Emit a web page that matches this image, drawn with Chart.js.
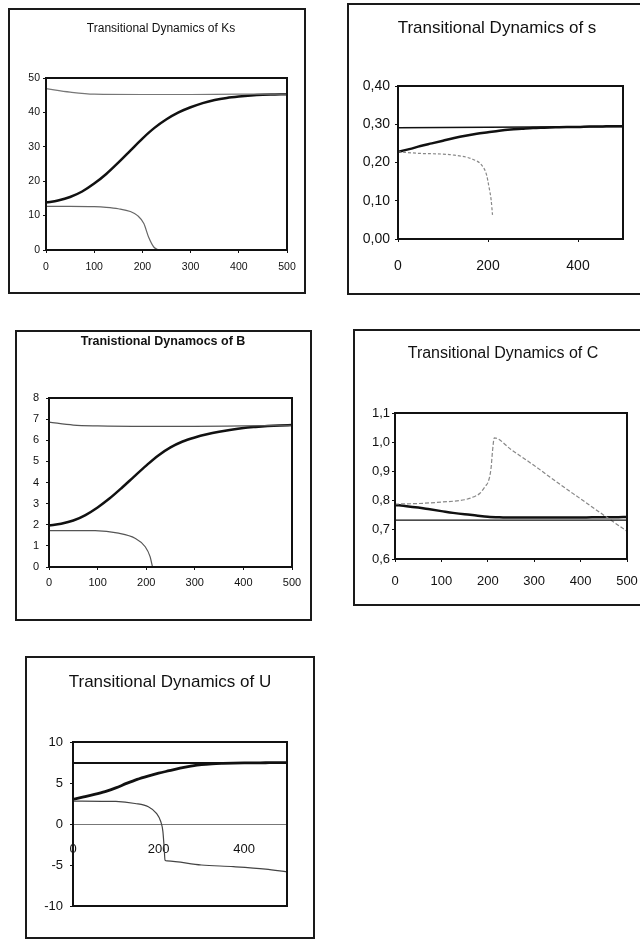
<!DOCTYPE html>
<html>
<head>
<meta charset="utf-8">
<script src="https://cdn.jsdelivr.net/npm/chart.js@4.4.1/dist/chart.umd.min.js"></script>
<style>
  body { margin: 0; background: #fff; width: 640px; height: 941px; position: relative; overflow: hidden; font-family: 'Liberation Sans', Arial, sans-serif; color: #111; }
  .panel { position: absolute; box-sizing: border-box; border: 2px solid #1a1a1a; background: #fff; }
  .panel canvas { position: absolute; left: 0; top: 0; }
  .title { position: absolute; width: 300px; text-align: center; line-height: 1.2; white-space: nowrap; }
</style>
</head>
<body>
<div class="panel" style="left:8px;top:8px;width:298px;height:286px"><canvas id="ks" width="294" height="282"></canvas></div>
<div class="panel" style="left:347px;top:3px;width:298px;height:292px"><canvas id="sv" width="288" height="288"></canvas></div>
<div class="panel" style="left:15px;top:330px;width:297px;height:291px"><canvas id="bv" width="293" height="287"></canvas></div>
<div class="panel" style="left:353px;top:329px;width:292px;height:277px"><canvas id="cv" width="283" height="273"></canvas></div>
<div class="panel" style="left:25px;top:656px;width:290px;height:283px"><canvas id="uv" width="286" height="279"></canvas></div>

<div class="title" style="left:11px;top:21px;font-size:12px">Transitional Dynamics of Ks</div>
<div class="title" style="left:347px;top:18px;font-size:17px">Transitional Dynamics of s</div>
<div class="title" style="left:13px;top:334px;font-size:12.5px;font-weight:bold">Tranistional Dynamocs of B</div>
<div class="title" style="left:353px;top:343px;font-size:16px">Transitional Dynamics of C</div>
<div class="title" style="left:20px;top:672px;font-size:17px">Transitional Dynamics of U</div>
<script>
// common time grid for the smooth curves
const steps = [0, 25, 50, 75, 100, 125, 150, 175, 200, 225, 250, 275, 300, 325, 350, 375, 400, 425, 450, 475, 500];

// Ks
const ksRising = [13.8, 14.4, 15.4, 17.0, 19.3, 22.1, 25.4, 28.9, 32.4, 35.5, 38.0, 40.0, 41.5, 42.7, 43.6, 44.2, 44.6, 44.9, 45.1, 45.2, 45.3];
const ksUpperTime = [0, 50, 100, 200, 300, 400, 500];
const ksUpper = [46.9, 45.9, 45.3, 45.2, 45.2, 45.3, 45.3];
const ksFallTime = [0, 50, 100, 125, 150, 175, 190, 203, 213, 224, 234];
const ksFalling = [12.7, 12.7, 12.6, 12.4, 12.0, 11.2, 10.0, 7.7, 3.7, 0.8, 0];

// s
const sRising = [0.228, 0.235, 0.243, 0.25, 0.257, 0.264, 0.27, 0.275, 0.279, 0.283, 0.286, 0.288, 0.29, 0.291, 0.292, 0.293, 0.293, 0.294, 0.294, 0.295, 0.295];
const sLevelTime = [0, 500];
const sLevel = [0.291, 0.294];
const sFallTime = [0, 45, 119, 167, 186, 197, 202, 207, 210];
const sFalling = [0.228, 0.224, 0.22, 0.208, 0.193, 0.167, 0.137, 0.102, 0.063];

// B
const bRising = [1.96, 2.05, 2.2, 2.46, 2.82, 3.25, 3.75, 4.28, 4.8, 5.28, 5.66, 5.94, 6.13, 6.28, 6.4, 6.5, 6.58, 6.63, 6.67, 6.7, 6.72];
const bUpperTime = [0, 50, 100, 200, 300, 400, 500];
const bUpper = [6.86, 6.72, 6.68, 6.66, 6.66, 6.68, 6.7];
const bFallTime = [0, 95, 143, 177, 198, 208, 213];
const bFalling = [1.72, 1.72, 1.6, 1.36, 0.96, 0.49, 0];

// C
const cFalling = [0.785, 0.781, 0.776, 0.770, 0.764, 0.758, 0.753, 0.749, 0.745, 0.743, 0.742, 0.742, 0.742, 0.742, 0.742, 0.742, 0.742, 0.743, 0.743, 0.743, 0.744];
const cLevelTime = [0, 500];
const cLevel = [0.733, 0.733];
const cPeakTime = [0, 50, 100, 150, 170, 183, 195, 201, 207, 210, 214, 250, 300, 350, 400, 450, 500];
const cPeak = [0.788, 0.79, 0.795, 0.803, 0.813, 0.825, 0.85, 0.865, 0.911, 0.967, 1.015, 0.975, 0.92, 0.862, 0.806, 0.75, 0.695];

// U
const uRising = [3.0, 3.3, 3.6, 3.95, 4.4, 4.95, 5.45, 5.85, 6.2, 6.5, 6.8, 7.05, 7.25, 7.35, 7.4, 7.43, 7.45, 7.46, 7.47, 7.48, 7.48];
const uLevelTime = [0, 500];
const uLevel = [7.45, 7.45];
const uFallTime = [0, 100, 145, 176, 195, 205, 210, 213, 215, 220, 300, 375, 450, 500];
const uFalling = [2.8, 2.75, 2.5, 2.1, 1.3, 0.3, -0.9, -2.9, -4.4, -4.5, -5.0, -5.2, -5.5, -5.85];

const FONT = "'Liberation Sans', Arial, sans-serif";
const INK = "#111";

function pts(xs, ys) {
  return xs.map((x, i) => ({ x: x, y: ys[i] }));
}

function line(xs, ys, color, width, dash) {
  return {
    data: pts(xs, ys),
    borderColor: color,
    borderWidth: width,
    borderDash: dash || [],
    pointRadius: 0,
    fill: false,
    cubicInterpolationMode: "monotone",
  };
}

// thick frame round the plot area
const frame = {
  id: "frame",
  afterDraw(chart) {
    const { ctx, chartArea: a } = chart;
    ctx.save();
    ctx.strokeStyle = INK;
    ctx.lineWidth = 2;
    ctx.strokeRect(a.left, a.top, a.right - a.left, a.bottom - a.top);
    ctx.restore();
  },
};

function comma(d) {
  return (v) => v.toFixed(d).replace(".", ",");
}

function makeChart(id, o) {
  const x = {
    type: "linear",
    min: 0,
    max: 500,
    ticks: {
      stepSize: o.xStep,
      includeBounds: false,
      autoSkip: false,
      maxRotation: 0,
      color: INK,
      padding: o.xPad,
      font: { family: FONT, size: o.tickSize },
    },
    grid: { drawOnChartArea: false, tickLength: 3, color: INK },
    border: { display: false },
    afterFit: (s) => {
      s.height = o.xHeight;
      s.paddingLeft = 0;
      s.paddingRight = 0;
    },
  };
  if (o.xAtZero) {
    x.position = { y: 0 };
    x.grid = { display: false, drawTicks: false };
    x.border = { display: true, color: "#777", width: 1 };
  }
  new Chart(document.getElementById(id), {
    type: "line",
    data: { datasets: o.datasets },
    options: {
      responsive: false,
      animation: false,
      layout: { padding: o.padding },
      plugins: {
        legend: { display: false },
        tooltip: { enabled: false },
      },
      scales: {
        x: x,
        y: {
          min: o.yMin,
          max: o.yMax,
          ticks: {
            stepSize: o.yStep,
            color: INK,
            padding: o.yPad,
            font: { family: FONT, size: o.tickSize },
            callback: o.yFormat || ((v) => v),
          },
          grid: { drawOnChartArea: false, tickLength: 3, color: INK },
          border: { display: false },
          afterFit: (s) => { s.width = o.yWidth; },
        },
      },
    },
    plugins: [frame],
  });
}

makeChart("ks", {
  padding: { left: 8, right: 17, top: 68, bottom: 14 },
  tickSize: 10.5, xStep: 100, xPad: 8, xHeight: 28,
  yMin: 0, yMax: 50, yStep: 10, yPad: 3, yWidth: 28,
  datasets: [
    line(ksUpperTime, ksUpper, "#777", 1.2),
    line(ksFallTime, ksFalling, "#666", 1.2),
    line(steps, ksRising, INK, 2.5),
  ],
});

makeChart("sv", {
  padding: { left: 11, right: 14, top: 81, bottom: 14 },
  tickSize: 14, xStep: 200, xPad: 16, xHeight: 40,
  yMin: 0, yMax: 0.4, yStep: 0.1, yPad: 5, yWidth: 38,
  yFormat: comma(2),
  datasets: [
    line(sLevelTime, sLevel, INK, 1.6),
    line(sFallTime, sFalling, "#888", 1.2, [3, 2]),
    line(steps, sRising, INK, 2.5),
  ],
});

makeChart("bv", {
  padding: { left: 8, right: 18, top: 66, bottom: 22 },
  tickSize: 11, xStep: 100, xPad: 6, xHeight: 30,
  yMin: 0, yMax: 8, yStep: 1, yPad: 7, yWidth: 24,
  datasets: [
    line(bUpperTime, bUpper, "#555", 1.2),
    line(bFallTime, bFalling, "#555", 1.2),
    line(steps, bRising, INK, 2.5),
  ],
});

makeChart("cv", {
  padding: { left: 10, right: 11, top: 82, bottom: 10 },
  tickSize: 13, xStep: 100, xPad: 12, xHeight: 35,
  yMin: 0.6, yMax: 1.1, yStep: 0.1, yPad: 2, yWidth: 30,
  yFormat: comma(1),
  datasets: [
    line(cLevelTime, cLevel, INK, 1.4),
    line(cPeakTime, cPeak, "#888", 1.2, [4, 2]),
    line(steps, cFalling, INK, 2.5),
  ],
});

makeChart("uv", {
  padding: { left: 10, right: 26, top: 84, bottom: 31 },
  tickSize: 13, xStep: 200, xPad: 18, xHeight: 0, xAtZero: true,
  yMin: -10, yMax: 10, yStep: 5, yPad: 7, yWidth: 36,
  datasets: [
    line(uLevelTime, uLevel, INK, 2),
    line(uFallTime, uFalling, "#444", 1.2),
    line(steps, uRising, INK, 2.8),
  ],
});
</script>
</body>
</html>
